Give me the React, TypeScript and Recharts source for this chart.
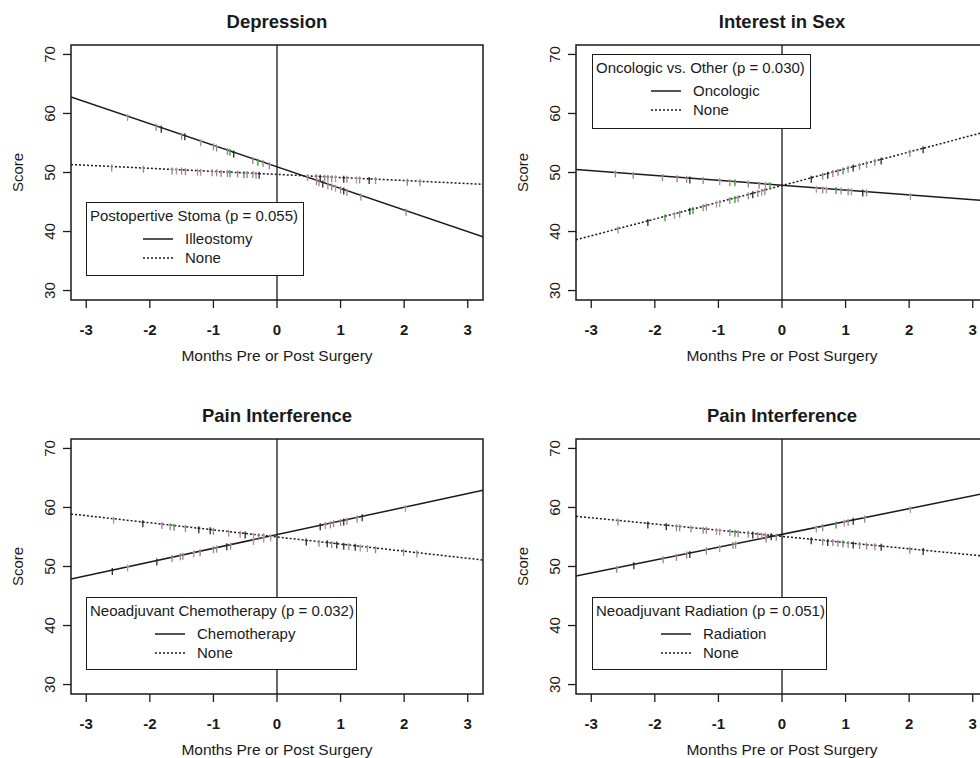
import {
  ComposedChart,
  Line,
  Scatter,
  XAxis,
  YAxis,
  ReferenceLine,
  ReferenceArea,
} from 'recharts';

// axes shared by all four panels
const X_TICKS = [-3, -2, -1, 0, 1, 2, 3];
const Y_TICKS = [30, 40, 50, 60, 70];
const X_DOMAIN: [number, number] = [-3.24, 3.24];
const Y_DOMAIN: [number, number] = [28.4, 71.6];

// fitted lines: score at left and right edge of the plot
const depressionStoma = [62.8, 39.1];
const depressionNone = [51.35, 48.0];
const sexOncologic = [50.5, 45.2];
const sexNone = [38.6, 57.0];
const painChemo = [47.9, 62.9];
const painChemoNone = [58.9, 51.1];
const painRadiation = [48.4, 62.5];
const painRadiationNone = [58.5, 51.7];

// observation marks [months, score]
const depressionStomaMarks = [
  [-2.35, 59.6], [-1.9, 57.9], [-1.82, 57.6], [-1.5, 56.4], [-1.45, 56.3], [-1.2, 55.3],
  [-1.0, 54.6], [-0.95, 54.4], [-0.78, 53.8], [-0.74, 53.7], [-0.68, 53.4], [-0.38, 52.3],
  [-0.3, 52.0], [-0.22, 51.8], [-0.12, 51.4], [0.62, 48.7], [0.66, 48.5], [0.72, 48.3],
  [0.8, 48.0], [0.86, 47.8], [0.92, 47.6], [1.0, 47.3], [1.05, 47.1], [1.1, 46.9],
  [1.32, 46.1], [2.03, 43.5],
];
const depressionNoneMarks = [
  [-2.6, 51.0], [-2.1, 50.8], [-1.65, 50.5], [-1.58, 50.5], [-1.5, 50.5], [-1.44, 50.4],
  [-1.25, 50.3], [-1.2, 50.3], [-1.02, 50.2], [-0.95, 50.2], [-0.88, 50.1], [-0.78, 50.1],
  [-0.74, 50.1], [-0.62, 50.0], [-0.52, 49.9], [-0.47, 49.9], [-0.38, 49.9], [-0.33, 49.8],
  [-0.28, 49.8], [0.48, 49.4], [0.62, 49.4], [0.68, 49.3], [0.75, 49.3], [0.8, 49.3],
  [0.86, 49.2], [0.92, 49.2], [1.05, 49.1], [1.1, 49.1], [1.25, 49.0], [1.3, 49.0],
  [1.45, 48.9], [1.55, 48.9], [2.05, 48.6], [2.25, 48.5],
];
const sexOncologicMarks = [
  [-2.62, 50.0], [-2.34, 49.8], [-1.88, 49.4], [-1.65, 49.2], [-1.5, 49.1], [-1.45, 49.0],
  [-1.24, 48.9], [-0.98, 48.7], [-0.82, 48.5], [-0.74, 48.5], [-0.53, 48.3], [-0.36, 48.1],
  [-0.26, 48.1], [-0.19, 48.0], [0.54, 47.4], [0.64, 47.3], [0.7, 47.3], [0.85, 47.2],
  [0.93, 47.1], [1.04, 47.0], [1.09, 47.0], [1.27, 46.8], [1.33, 46.8], [2.02, 46.2],
];
const sexNoneMarks = [
  [-2.58, 40.5], [-2.11, 41.8], [-1.84, 42.6], [-1.69, 43.0], [-1.61, 43.2], [-1.45, 43.7],
  [-1.4, 43.8], [-1.24, 44.3], [-1.19, 44.4], [-1.03, 44.9], [-0.98, 45.0], [-0.82, 45.5],
  [-0.74, 45.7], [-0.69, 45.8], [-0.53, 46.3], [-0.46, 46.5], [-0.38, 46.7], [-0.32, 46.9],
  [-0.27, 47.0], [0.46, 49.1], [0.64, 49.6], [0.72, 49.8], [0.8, 50.1], [0.88, 50.3],
  [0.96, 50.5], [1.04, 50.8], [1.12, 51.0], [1.22, 51.3], [1.33, 51.6], [1.46, 52.0],
  [1.56, 52.2], [2.01, 53.5], [2.22, 54.1],
];
const painChemoMarks = [
  [-2.59, 49.4], [-2.35, 50.0], [-1.89, 51.0], [-1.65, 51.6], [-1.52, 51.9], [-1.48, 52.0],
  [-1.31, 52.4], [-1.21, 52.6], [-1.0, 53.1], [-0.95, 53.2], [-0.79, 53.6], [-0.73, 53.7],
  [-0.37, 54.5], [-0.21, 54.9], [0.68, 57.0], [0.76, 57.2], [0.84, 57.3], [0.89, 57.5],
  [1.0, 57.7], [1.05, 57.8], [1.1, 57.9], [1.26, 58.3], [1.34, 58.5], [2.02, 60.1],
];
const painChemoNoneMarks = [
  [-2.57, 58.1], [-2.11, 57.5], [-1.81, 57.2], [-1.68, 57.0], [-1.62, 56.9], [-1.44, 56.7],
  [-1.23, 56.5], [-1.05, 56.3], [-1.0, 56.2], [-0.76, 55.9], [-0.58, 55.7], [-0.5, 55.6],
  [-0.37, 55.4], [-0.29, 55.3], [-0.21, 55.3], [-0.1, 55.1], [0.46, 54.4], [0.66, 54.2],
  [0.79, 54.1], [0.86, 54.0], [0.94, 53.9], [1.05, 53.7], [1.13, 53.6], [1.23, 53.5],
  [1.31, 53.4], [1.42, 53.3], [1.55, 53.1], [1.99, 52.6], [2.2, 52.4],
];
const painRadiationMarks = [
  [-2.6, 49.8], [-2.33, 50.4], [-1.87, 51.4], [-1.66, 51.8], [-1.5, 52.2], [-1.45, 52.3],
  [-1.19, 52.9], [-0.98, 53.3], [-0.77, 53.8], [-0.73, 53.9], [-0.25, 54.9], [0.54, 56.6],
  [0.64, 56.8], [0.85, 57.3], [0.98, 57.6], [1.04, 57.7], [1.12, 57.9], [1.3, 58.3],
  [2.02, 59.9],
];
const painRadiationNoneMarks = [
  [-2.58, 57.8], [-2.11, 57.3], [-1.82, 57.0], [-1.66, 56.8], [-1.61, 56.8], [-1.43, 56.6],
  [-1.24, 56.4], [-1.19, 56.4], [-1.03, 56.2], [-0.98, 56.1], [-0.82, 56.0], [-0.74, 55.9],
  [-0.69, 55.8], [-0.53, 55.7], [-0.46, 55.6], [-0.38, 55.5], [-0.32, 55.4], [-0.26, 55.4],
  [-0.17, 55.3], [-0.09, 55.2], [0.46, 54.6], [0.64, 54.4], [0.72, 54.3], [0.8, 54.3],
  [0.88, 54.2], [0.96, 54.1], [1.04, 54.0], [1.12, 53.9], [1.22, 53.8], [1.33, 53.7],
  [1.46, 53.6], [1.56, 53.5], [2.01, 53.0], [2.22, 52.8],
];

const FONT = '"Liberation Sans", Arial, sans-serif';
const INK = '#1a1a1a';
const MARK_COLORS = [
  '#9a7f8e', '#9a7f8e', '#2a2a2a', '#9a7f8e', '#b08fa0', '#9a7f8e',
  '#2a2a2a', '#9a7f8e', '#3a9a3a', '#9a7f8e', '#b08fa0',
];

const toLine = (ends: number[]) => [
  { x: X_DOMAIN[0], y: ends[0] },
  { x: X_DOMAIN[1], y: ends[1] },
];
const toMarks = (marks: number[][]) => marks.map(([x, y]) => ({ x, y }));

const RugMark = (props: any) => {
  const { cx, cy, payload } = props;
  if (cx == null || cy == null) return null;
  const color = MARK_COLORS[Math.round(Math.abs(payload.x) * 100) % MARK_COLORS.length];
  return (
    <g>
      <line x1={cx} x2={cx} y1={cy - 2} y2={cy + 5} stroke={color} strokeWidth={1.3} />
      <line x1={cx - 1.5} x2={cx + 1.5} y1={cy} y2={cy} stroke={color} strokeWidth={1} />
    </g>
  );
};

const XTick = ({ x, y, payload }: any) => (
  <text x={x} y={y + 25} textAnchor="middle" fontFamily={FONT} fontSize={15} fontWeight="bold" fill={INK}>
    {payload.value}
  </text>
);

const YTick = ({ x, y, payload }: any) => (
  <text
    x={x - 6}
    y={y}
    transform={`rotate(-90, ${x - 6}, ${y})`}
    textAnchor="middle"
    fontFamily={FONT}
    fontSize={15}
    fill={INK}
  >
    {payload.value}
  </text>
);

interface PanelProps {
  left: number;
  top: number;
  title: string;
  legendTitle: string;
  solidLabel: string;
  solid: number[];
  dotted: number[];
  solidMarks: number[][];
  dottedMarks: number[][];
  legendBox: { left: number; top: number; width: number; height: number; indent: number };
}

function Panel({
  left,
  top,
  title,
  legendTitle,
  solidLabel,
  solid,
  dotted,
  solidMarks,
  dottedMarks,
  legendBox,
}: PanelProps) {
  return (
    <div style={{ position: 'absolute', left, top, width: 490, height: 379 }}>
      <div
        style={{
          position: 'absolute',
          left: 71,
          width: 412,
          top: 11,
          textAlign: 'center',
          fontFamily: FONT,
          fontWeight: 'bold',
          fontSize: 18.5,
          color: INK,
        }}
      >
        {title}
      </div>

      <ComposedChart width={490} height={379} margin={{ top: 45, right: 7, bottom: 0, left: 0 }}>
        <XAxis
          dataKey="x"
          type="number"
          domain={X_DOMAIN}
          ticks={X_TICKS}
          allowDataOverflow
          axisLine={false}
          tickSize={8}
          tickLine={{ stroke: INK, strokeWidth: 1.3 }}
          height={79}
          tick={<XTick />}
          label={{
            content: ({ viewBox }: any) => (
              <text
                x={viewBox.x + viewBox.width / 2}
                y={viewBox.y + 61}
                textAnchor="middle"
                fontFamily={FONT}
                fontSize={15.5}
                fill={INK}
              >
                Months Pre or Post Surgery
              </text>
            ),
          }}
        />
        <YAxis
          type="number"
          domain={Y_DOMAIN}
          ticks={Y_TICKS}
          allowDataOverflow
          axisLine={false}
          tickSize={8}
          tickLine={{ stroke: INK, strokeWidth: 1.3 }}
          width={71}
          tick={<YTick />}
          label={{
            content: ({ viewBox }: any) => (
              <text
                x={23}
                y={viewBox.y + viewBox.height / 2}
                transform={`rotate(-90, 23, ${viewBox.y + viewBox.height / 2})`}
                textAnchor="middle"
                fontFamily={FONT}
                fontSize={15}
                fill={INK}
              >
                Score
              </text>
            ),
          }}
        />
        <ReferenceArea
          x1={X_DOMAIN[0]}
          x2={X_DOMAIN[1]}
          y1={Y_DOMAIN[0]}
          y2={Y_DOMAIN[1]}
          fill="none"
          stroke={INK}
          strokeWidth={1.5}
          fillOpacity={0}
        />
        <ReferenceLine x={0} stroke={INK} strokeWidth={1.3} />
        <Line
          data={toLine(solid)}
          dataKey="y"
          type="linear"
          stroke={INK}
          strokeWidth={1.5}
          dot={false}
          activeDot={false}
          isAnimationActive={false}
        />
        <Line
          data={toLine(dotted)}
          dataKey="y"
          type="linear"
          stroke={INK}
          strokeWidth={1.5}
          strokeDasharray="2 2"
          dot={false}
          activeDot={false}
          isAnimationActive={false}
        />
        <Scatter data={toMarks(solidMarks)} dataKey="y" shape={<RugMark />} isAnimationActive={false} />
        <Scatter data={toMarks(dottedMarks)} dataKey="y" shape={<RugMark />} isAnimationActive={false} />
      </ComposedChart>

      <div
        style={{
          position: 'absolute',
          left: legendBox.left,
          top: legendBox.top,
          width: legendBox.width,
          height: legendBox.height,
          boxSizing: 'border-box',
          border: `1.5px solid ${INK}`,
          background: '#fff',
          fontFamily: FONT,
          fontSize: 15,
          color: INK,
          lineHeight: '19px',
        }}
      >
        <div style={{ paddingLeft: 3, paddingTop: 3, marginBottom: 4, whiteSpace: 'nowrap' }}>{legendTitle}</div>
        {[
          { label: solidLabel, dash: undefined },
          { label: 'None', dash: '2 2' },
        ].map((row) => (
          <div key={row.label} style={{ display: 'flex', alignItems: 'center', paddingLeft: legendBox.indent }}>
            <svg width={30} height={19}>
              <line x1={0} x2={30} y1={10} y2={10} stroke={INK} strokeWidth={1.5} strokeDasharray={row.dash} />
            </svg>
            <span style={{ marginLeft: 12 }}>{row.label}</span>
          </div>
        ))}
      </div>
    </div>
  );
}

export default function App() {
  return (
    <div
      style={{
        position: 'fixed',
        left: 0,
        top: 0,
        width: 980,
        height: 758,
        overflow: 'hidden',
        background: '#fff',
      }}
    >
      <Panel
        left={0}
        top={0}
        title="Depression"
        legendTitle="Postopertive Stoma (p = 0.055)"
        solidLabel="Illeostomy"
        solid={depressionStoma}
        dotted={depressionNone}
        solidMarks={depressionStomaMarks}
        dottedMarks={depressionNoneMarks}
        legendBox={{ left: 86, top: 202, width: 218, height: 74, indent: 56 }}
      />
      <Panel
        left={505}
        top={0}
        title="Interest in Sex"
        legendTitle="Oncologic vs. Other (p = 0.030)"
        solidLabel="Oncologic"
        solid={sexOncologic}
        dotted={sexNone}
        solidMarks={sexOncologicMarks}
        dottedMarks={sexNoneMarks}
        legendBox={{ left: 87, top: 54, width: 219, height: 75, indent: 58 }}
      />
      <Panel
        left={0}
        top={394}
        title="Pain Interference"
        legendTitle="Neoadjuvant Chemotherapy (p = 0.032)"
        solidLabel="Chemotherapy"
        solid={painChemo}
        dotted={painChemoNone}
        solidMarks={painChemoMarks}
        dottedMarks={painChemoNoneMarks}
        legendBox={{ left: 86, top: 203, width: 271, height: 73, indent: 68 }}
      />
      <Panel
        left={505}
        top={394}
        title="Pain Interference"
        legendTitle="Neoadjuvant Radiation (p = 0.051)"
        solidLabel="Radiation"
        solid={painRadiation}
        dotted={painRadiationNone}
        solidMarks={painRadiationMarks}
        dottedMarks={painRadiationNoneMarks}
        legendBox={{ left: 87, top: 203, width: 235, height: 73, indent: 68 }}
      />
    </div>
  );
}
